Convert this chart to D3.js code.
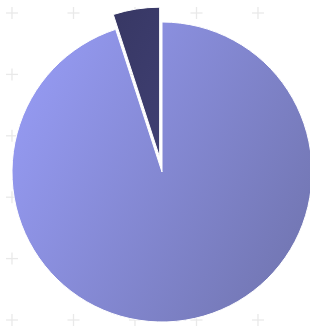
<!DOCTYPE html>
<html>
<head>
  <meta charset="utf-8">
  <script src="https://d3js.org/d3.v7.min.js"></script>
  <style>
    body { margin: 0; background: #fff; }
  </style>
</head>
<body>
  <svg width="310" height="330"></svg>
  <script>
    // Data
    var categories = ["Main", "Other"];
    var values = [95, 5];
    var explode = [0, 15];
    var lightColors = ["#959af2", "#33335c"];
    var darkColors = ["#7276b2", "#4b4b88"];

    var svg = d3.select("svg");
    var cx = 162, cy = 172, r = 150;

    // background "+" grid
    var gridX = d3.range(0, 5), gridY = d3.range(0, 6);
    var gx = d3.scaleLinear().domain([0, 4]).range([12, 258]);
    var gy = d3.scaleLinear().domain([0, 5]).range([13, 320]);
    var marks = svg.append("g").attr("stroke", "#e9e9e9").attr("stroke-width", 1.3);
    gridY.forEach(function(j) {
      gridX.forEach(function(i) {
        var x = gx(i), y = gy(j);
        marks.append("line").attr("x1", x - 6).attr("x2", x + 6).attr("y1", y).attr("y2", y);
        marks.append("line").attr("x1", x).attr("x2", x).attr("y1", y - 6).attr("y2", y + 6);
      });
    });

    // gradients (coordinates relative to the pie centre)
    var defs = svg.append("defs");
    categories.forEach(function(c, i) {
      var g = defs.append("linearGradient")
        .attr("id", "grad" + i)
        .attr("gradientUnits", "userSpaceOnUse")
        .attr("x1", -r).attr("y1", -r * 0.5)
        .attr("x2", r).attr("y2", r * 0.5);
      g.append("stop").attr("offset", "0%").attr("stop-color", lightColors[i]);
      g.append("stop").attr("offset", "100%").attr("stop-color", darkColors[i]);
    });

    var pie = d3.pie().sort(null).value(function(d) { return d; });
    var arc = d3.arc().innerRadius(0).outerRadius(r);
    var arcs = pie(values);

    svg.append("g")
      .attr("transform", "translate(" + cx + "," + cy + ")")
      .selectAll("path")
      .data(arcs)
      .enter()
      .append("path")
      .attr("transform", function(d, i) {
        var a = (d.startAngle + d.endAngle) / 2;
        return "translate(" + (Math.sin(a) * explode[i]) + "," + (-Math.cos(a) * explode[i]) + ")";
      })
      .attr("d", arc)
      .attr("fill", function(d, i) { return "url(#grad" + i + ")"; })
      .attr("stroke", "#fff")
      .attr("stroke-width", 1);
  </script>
</body>
</html>
